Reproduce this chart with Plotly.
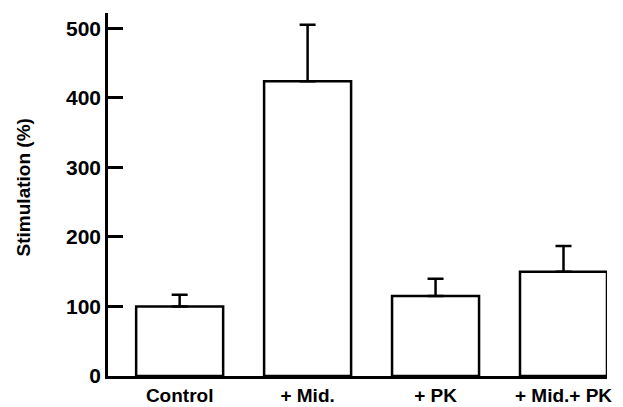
import plotly.graph_objects as go

categories = ["Control", "+ Mid.", "+ PK", "+ Mid.+ PK"]
values = [100, 424, 115, 150]
errors = [17, 81, 25, 37]
y_ticks = [0, 100, 200, 300, 400, 500]

fig = go.Figure()
fig.add_trace(go.Bar(
    x=list(range(len(categories))),
    y=values,
    width=0.68,
    marker=dict(color="white", line=dict(color="black", width=2.5)),
    error_y=dict(type="data", array=errors, arrayminus=[0] * len(errors),
                 symmetric=False, color="black", thickness=2.5, width=8),
))

font = dict(family="Liberation Sans, Arial, sans-serif", size=19, color="black", weight="bold")

fig.update_layout(
    width=623, height=407,
    margin=dict(l=108, r=16, t=13, b=31),
    plot_bgcolor="white", paper_bgcolor="white",
    showlegend=False,
    font=font,
    xaxis=dict(
        range=[-0.56, 3.34],
        tickvals=list(range(len(categories))),
        ticktext=categories,
        showgrid=False, zeroline=False, automargin=False,
        showline=True, linecolor="black", linewidth=2.5,
        ticks="", tickfont=dict(size=19, weight="bold"),
    ),
    yaxis=dict(
        range=[0, 522],
        tickvals=y_ticks,
        showgrid=False, zeroline=False, automargin=False,
        showline=True, linecolor="black", linewidth=2.5,
        ticks="inside", ticklen=15, tickwidth=2.5, tickcolor="black",
        tickfont=dict(size=21, weight="bold"),
    ),
    annotations=[dict(
        text="Stimulation (%)", textangle=-90,
        xref="paper", yref="paper", x=-0.17, y=0.52,
        xanchor="center", yanchor="middle", showarrow=False,
        font=dict(size=19, weight="bold", color="black"),
    )],
)

fig.write_html("out.html", config={"displayModeBar": False},
               post_script="document.body.style.margin='0';document.body.style.overflow='hidden';")
